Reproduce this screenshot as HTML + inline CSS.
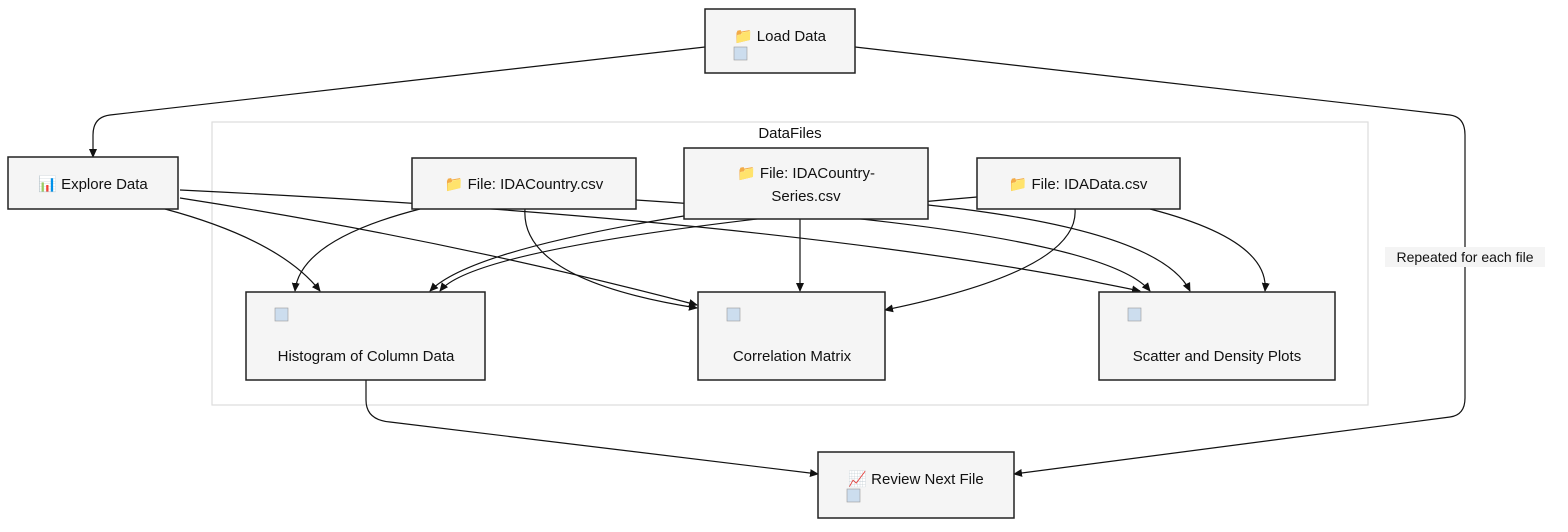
<!DOCTYPE html>
<html><head><meta charset="utf-8"><style>
body{margin:0;background:#fff;}
svg{display:block;font-family:"Liberation Sans",sans-serif;}
</style></head><body>
<svg width="1568" height="532" viewBox="0 0 1568 532" xmlns="http://www.w3.org/2000/svg">
<defs><marker id="a" markerWidth="10" markerHeight="10" refX="8" refY="5" orient="auto" markerUnits="userSpaceOnUse"><path d="M0,1 L9,5 L0,9 Z" fill="#111"/></marker></defs>
<rect x="212" y="122" width="1156" height="283" fill="none" stroke="#ddd" stroke-width="1.2"/>
<text x="790" y="138" font-size="15" text-anchor="middle" fill="#111">DataFiles</text>
<g fill="none" stroke="#111" stroke-width="1.2" marker-end="url(#a)">
<path d="M705,47 L110,115 Q93,117 93,135 L93,157"/>
<path d="M855,47 L1450,115 Q1465,117 1465,135 L1465,398 Q1465,415 1450,417 L1014,474"/>
<path d="M366,380 L366,400 Q366,420 390,422 L818,474"/>
<path d="M165,209 Q280,240 320,291"/>
<path d="M180,198 Q450,240 697,305"/>
<path d="M180,190 Q800,220 1140,291"/>
<path d="M420,209 Q300,240 295,291"/>
<path d="M525,209 Q520,280 697,308"/>
<path d="M636,200 Q1100,230 1150,291"/>
<path d="M690,215 Q470,250 430,291"/>
<path d="M800,219 L800,291"/>
<path d="M928,205 Q1160,230 1190,291"/>
<path d="M977,197 Q480,240 440,291"/>
<path d="M1075,209 Q1080,270 885,310"/>
<path d="M1150,209 Q1270,240 1265,291"/>
</g>
<g fill="#f5f5f5" stroke="#222" stroke-width="1.5">
<rect x="705" y="9" width="150" height="64"/>
<rect x="8" y="157" width="170" height="52"/>
<rect x="412" y="158" width="224" height="51"/>
<rect x="684" y="148" width="244" height="71"/>
<rect x="977" y="158" width="203" height="51"/>
<rect x="246" y="292" width="239" height="88"/>
<rect x="698" y="292" width="187" height="88"/>
<rect x="1099" y="292" width="236" height="88"/>
<rect x="818" y="452" width="196" height="66"/>
</g>
<rect x="1385" y="247" width="160" height="20" fill="#f4f4f4"/>
<g font-size="15" fill="#111">
<text x="780" y="41" text-anchor="middle">📁 Load Data</text>
<text x="93" y="189" text-anchor="middle">📊 Explore Data</text>
<text x="524" y="189" text-anchor="middle">📁 File: IDACountry.csv</text>
<text x="806" y="178" text-anchor="middle">📁 File: IDACountry-</text>
<text x="806" y="201" text-anchor="middle">Series.csv</text>
<text x="1078" y="189" text-anchor="middle">📁 File: IDAData.csv</text>
<text x="366" y="361" text-anchor="middle">Histogram of Column Data</text>
<text x="792" y="361" text-anchor="middle">Correlation Matrix</text>
<text x="1217" y="361" text-anchor="middle">Scatter and Density Plots</text>
<text x="916" y="484" text-anchor="middle">📈 Review Next File</text>
<text x="1465" y="262" text-anchor="middle" font-size="14">Repeated for each file</text>
</g>
<g fill="#cde" stroke="#999" stroke-width="0.6">
<rect x="734" y="47" width="13" height="13"/>
<rect x="275" y="308" width="13" height="13"/>
<rect x="727" y="308" width="13" height="13"/>
<rect x="1128" y="308" width="13" height="13"/>
<rect x="847" y="489" width="13" height="13"/>
</g>
</svg>
</body></html>
